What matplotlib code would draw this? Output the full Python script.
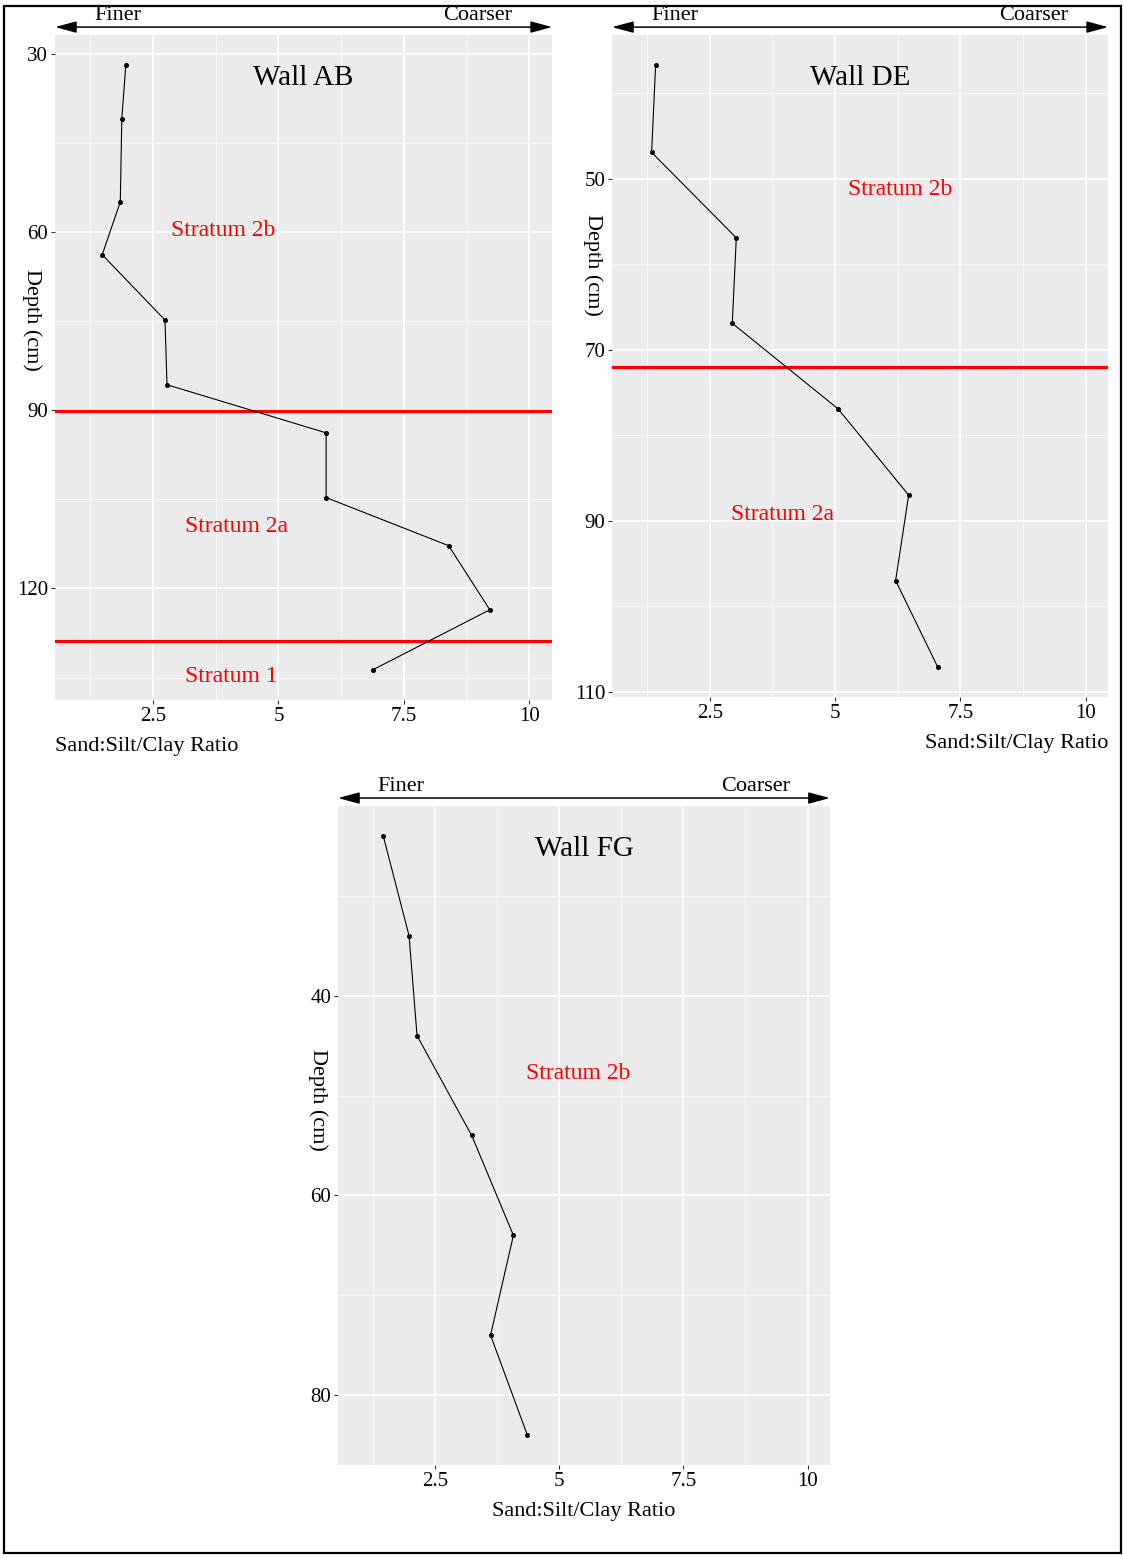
import numpy as np
import matplotlib
matplotlib.use("Agg")
import matplotlib.pyplot as plt
from matplotlib.patches import Rectangle

plt.rcParams['font.family'] = ['Liberation Serif', 'DejaVu Serif']

# sand:silt/clay ratio profiles
ab_depth = [31.9, 40.9, 54.9, 63.8, 74.8, 85.7, 93.8, 104.7, 112.8, 123.6, 133.7]
ab_ratio = [1.96, 1.88, 1.85, 1.49, 2.74, 2.78, 5.95, 5.95, 8.39, 9.21, 6.88]
ab_bounds = [90.1, 128.9]
ab_labels = [("Stratum 2b", 3.89, 59.8), ("Stratum 2a", 4.17, 109.6), ("Stratum 1", 4.07, 134.9)]
ab_yticks = [30, 60, 90, 120]

de_depth = [36.7, 46.9, 56.9, 66.9, 76.9, 87.0, 97.0, 107.1]
de_ratio = [1.42, 1.34, 3.03, 2.95, 5.06, 6.47, 6.21, 7.05]
de_bounds = [72.0]
de_labels = [("Stratum 2b", 6.31, 51.2), ("Stratum 2a", 3.95, 89.3)]
de_yticks = [50, 70, 90, 110]

fg_depth = [24, 34, 44, 54, 64, 74, 84]
fg_ratio = [1.46, 1.98, 2.14, 3.24, 4.08, 3.62, 4.36]
fg_bounds = []
fg_labels = [("Stratum 2b", 5.38, 47.8)]
fg_yticks = [40, 60, 80]

xticks = [2.5, 5, 7.5, 10]
xlabel = "Sand:Silt/Clay Ratio"

fig = plt.figure(figsize=(11.23, 15.58), dpi=100)


def panel(rect, title, depth, ratio, bounds, labels, yticks, xlab_loc, ylab_pos):
    ax = fig.add_axes(rect)
    ax.set_facecolor("#EBEBEB")
    for s in ax.spines.values():
        s.set_visible(False)

    ax.set_xticks(xticks)
    ax.set_xticklabels(["2.5", "5", "7.5", "10"])
    ax.set_xticks([1.25, 3.75, 6.25, 8.75], minor=True)
    ax.set_yticks(yticks)
    step = yticks[1] - yticks[0]
    ax.set_yticks([t + step / 2 for t in [yticks[0] - step] + yticks], minor=True)

    # ggplot style limits: 5% expansion (set after ticks so they don't widen it)
    ax.set_xlim(1 - 0.45, 10 + 0.45)
    lo, hi = min(depth), max(depth)
    pad = (hi - lo) * 0.05
    ax.set_ylim(hi + pad, lo - pad)

    ax.grid(True, which="major", color="white", lw=1.1)
    ax.grid(True, which="minor", color="white", lw=0.5)
    ax.set_axisbelow(True)
    ax.tick_params(which="major", length=3, color="#333333", labelsize=15,
                   labelcolor="black", pad=2)
    ax.tick_params(which="minor", length=0)

    for b in bounds:
        ax.axhline(b, color="#FF0000", lw=2.3, zorder=3)
    ax.plot(ratio, depth, color="black", lw=0.8, marker="o", ms=2.6, zorder=4)

    for txt, x, y in labels:
        ax.text(x, y, txt, color="#FF0000", fontsize=17, ha="center", va="center")
    ax.text(0.5, 0.935, title, transform=ax.transAxes, fontsize=21,
            ha="center", va="center")

    ax.set_xlabel(xlabel, fontsize=16, loc=xlab_loc, labelpad=8)
    ax.set_ylabel("Depth (cm)", fontsize=16, rotation=270, ha="center", va="center")
    ax.yaxis.set_label_coords(*ylab_pos)

    # finer / coarser arrow above the panel
    ax.annotate("", xy=(0.0, 1.012), xytext=(1.0, 1.012), xycoords="axes fraction",
                arrowprops=dict(arrowstyle="<|-|>,head_length=1.3,head_width=0.35",
                                color="black", lw=1.1, shrinkA=0, shrinkB=0),
                annotation_clip=False)
    ax.text(0.127, 1.029, "Finer", transform=ax.transAxes, fontsize=16,
            ha="center", va="center")
    ax.text(0.85, 1.029, "Coarser", transform=ax.transAxes, fontsize=16,
            ha="center", va="center")
    return ax


panel([0.049, 0.5507, 0.4426, 0.4268], "Wall AB", ab_depth, ab_ratio, ab_bounds,
      ab_labels, ab_yticks, "left", (-0.046, 0.571))
panel([0.545, 0.5526, 0.4417, 0.4249], "Wall DE", de_depth, de_ratio, de_bounds,
      de_labels, de_yticks, "right", (-0.038, 0.653))
panel([0.301, 0.0597, 0.438, 0.423], "Wall FG", fg_depth, fg_ratio, fg_bounds,
      fg_labels, fg_yticks, "center", (-0.041, 0.554))

# frame round the whole figure
fig.add_artist(Rectangle((0.004, 0.003), 0.994, 0.993, transform=fig.transFigure,
                         fill=False, ec="black", lw=1.6))

fig.savefig("out.png", dpi=100)
